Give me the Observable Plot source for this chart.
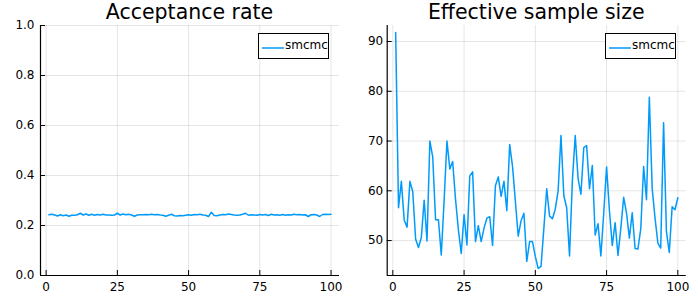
<!DOCTYPE html>
<html>
<head>
<meta charset="utf-8">
<script src="https://cdn.jsdelivr.net/npm/d3@7"></script>
<script src="https://cdn.jsdelivr.net/npm/@observablehq/plot@0.6"></script>
<style>
  body { margin: 0; background: #fff; font-family: "DejaVu Sans", sans-serif; }
  #wrap { position: relative; width: 698px; height: 299px; overflow: hidden; }
  .panel { position: absolute; top: 0; width: 349px; height: 299px; }
  .title { position: absolute; top: 1px; font-size: 20.5px; line-height: 22px; color: #000; white-space: nowrap; transform: translateX(-50%); }
  .legend { position: absolute; box-sizing: border-box; width: 71px; height: 26px; border: 1px solid #000; background: #fff; font-size: 12px; color: #000; }
  .legend svg { position: absolute; left: 3px; top: 12px; }
  .legend span { position: absolute; left: 26px; top: 4px; line-height: 14px; }
</style>
</head>
<body>
<div id="wrap"></div>
<script>
// ---- data ----
const titles = ["Acceptance rate", "Effective sample size"];
const seriesName = "smcmc";
const xTicks = [0, 25, 50, 75, 100];
const accTicks = [0.0, 0.2, 0.4, 0.6, 0.8, 1.0];
const essTicks = [50, 60, 70, 80, 90];

const acceptance = [
  0.243, 0.245, 0.242, 0.238, 0.243, 0.239, 0.242, 0.237, 0.241, 0.241,
  0.243, 0.249, 0.242, 0.246, 0.241, 0.245, 0.241, 0.244, 0.242, 0.245,
  0.242, 0.242, 0.241, 0.242, 0.249, 0.242, 0.246, 0.243, 0.245, 0.242,
  0.237, 0.242, 0.243, 0.243, 0.244, 0.243, 0.245, 0.243, 0.244, 0.242,
  0.241, 0.237, 0.241, 0.245, 0.239, 0.238, 0.240, 0.239, 0.241, 0.243,
  0.241, 0.244, 0.243, 0.245, 0.242, 0.241, 0.236, 0.253, 0.240, 0.239,
  0.242, 0.244, 0.243, 0.246, 0.244, 0.242, 0.241, 0.242, 0.245, 0.249,
  0.241, 0.243, 0.242, 0.241, 0.244, 0.242, 0.244, 0.240, 0.245, 0.242,
  0.243, 0.241, 0.244, 0.241, 0.243, 0.242, 0.245, 0.243, 0.244, 0.242,
  0.243, 0.236, 0.243, 0.244, 0.242, 0.236, 0.244, 0.245, 0.244, 0.245
];

const ess = [
  91.8, 56.6, 61.9, 54.1, 52.7, 61.9, 59.8, 50.3, 48.6, 50.6,
  58.1, 49.9, 70.0, 66.8, 54.2, 54.2, 47.1, 58.0, 70.0, 64.4,
  65.9, 58.3, 52.2, 47.4, 55.2, 49.1, 63.0, 63.8, 49.8, 53.0,
  49.8, 52.5, 54.5, 54.8, 49.0, 61.0, 62.8, 58.9, 61.9, 56.0,
  69.3, 64.9, 57.9, 50.9, 54.0, 55.5, 45.8, 49.8, 49.8, 46.8,
  44.4, 44.8, 52.5, 60.4, 54.9, 54.4, 56.3, 60.0, 71.1, 59.0,
  56.6, 46.9, 62.0, 71.1, 62.5, 59.3, 68.7, 69.1, 60.4, 65.1,
  51.1, 53.4, 46.9, 55.5, 64.8, 56.0, 49.0, 53.6, 47.0, 52.5,
  58.7, 55.5, 50.5, 55.6, 48.4, 48.3, 52.4, 64.9, 58.2, 78.8,
  60.5, 54.5, 49.5, 48.5, 73.7, 51.8, 47.6, 56.8, 56.2, 58.6
];

const lineColor = "#009AFA";

function padded(vals) {
  const [a, b] = d3.extent(vals);
  const p = (b - a) * 0.03;
  return [a - p, b + p];
}

function panel(values, yDomain, yTicks, yFormat, opts) {
  const data = values.map((v, i) => ({ iter: i + 1, v }));
  const xDomain = padded(data.map(d => d.iter));
  const W = 349, H = 299;
  const mt = 25, mb = 24;
  const innerW = W - opts.ml - opts.mr;
  const innerH = H - mt - mb;
  return Plot.plot({
    width: W, height: H,
    marginLeft: opts.ml, marginRight: opts.mr, marginTop: mt, marginBottom: mb,
    style: { fontFamily: "DejaVu Sans, sans-serif", fontSize: "12px", color: "#000", background: "#fff" },
    x: { domain: xDomain, label: null },
    y: { domain: yDomain, label: null },
    marks: [
      Plot.gridX(xTicks, { stroke: "#000", strokeOpacity: 0.1, strokeWidth: 1 }),
      Plot.gridY(yTicks, { stroke: "#000", strokeOpacity: 0.1, strokeWidth: 1 }),
      Plot.axisX(xTicks, { tickSize: 0, tickPadding: 7, fontSize: 12, fill: "#000", label: null, tickFormat: d => String(d) }),
      Plot.axisY(yTicks, { tickSize: 0, tickPadding: opts.pad, fontSize: 12, fill: "#000", label: null, tickFormat: yFormat }),
      Plot.tickX(xTicks, { x: d => d, stroke: "#000", strokeWidth: 1, insetTop: innerH - 5 }),
      Plot.tickY(yTicks, { y: d => d, stroke: "#000", strokeWidth: 1, insetRight: innerW - 5 }),
      Plot.ruleX([xDomain[0]], { stroke: "#000", strokeWidth: 1.2 }),
      Plot.ruleY([yDomain[0]], { stroke: "#000", strokeWidth: 1.2 }),
      Plot.line(data, { x: "iter", y: "v", stroke: lineColor, strokeWidth: 1.5 })
    ]
  });
}

const wrap = document.getElementById("wrap");

const left = document.createElement("div");
left.className = "panel"; left.style.left = "0px";
left.appendChild(panel(acceptance, [0, 1], accTicks, d => d.toFixed(1), { ml: 40, mr: 10, pad: 6 }));
wrap.appendChild(left);

const essDomain = padded(ess);
const right = document.createElement("div");
right.className = "panel"; right.style.left = "349px";
right.appendChild(panel(ess, essDomain, essTicks, d => String(d), { ml: 37.7, mr: 12.2, pad: 4 }));
wrap.appendChild(right);

function addTitle(text, cx) {
  const t = document.createElement("div");
  t.className = "title"; t.textContent = text; t.style.left = cx + "px";
  wrap.appendChild(t);
}
addTitle(titles[0], 189.5);
addTitle(titles[1], 536.3);

function addLegend(x) {
  const l = document.createElement("div");
  l.className = "legend"; l.style.left = x + "px"; l.style.top = "33px";
  l.innerHTML = `<svg width="22" height="4"><line x1="0" y1="2" x2="22" y2="2" stroke="${lineColor}" stroke-width="1.5"/></svg><span></span>`;
  l.querySelector("span").textContent = seriesName;
  wrap.appendChild(l);
}
addLegend(258);
addLegend(605);
</script>
</body>
</html>
